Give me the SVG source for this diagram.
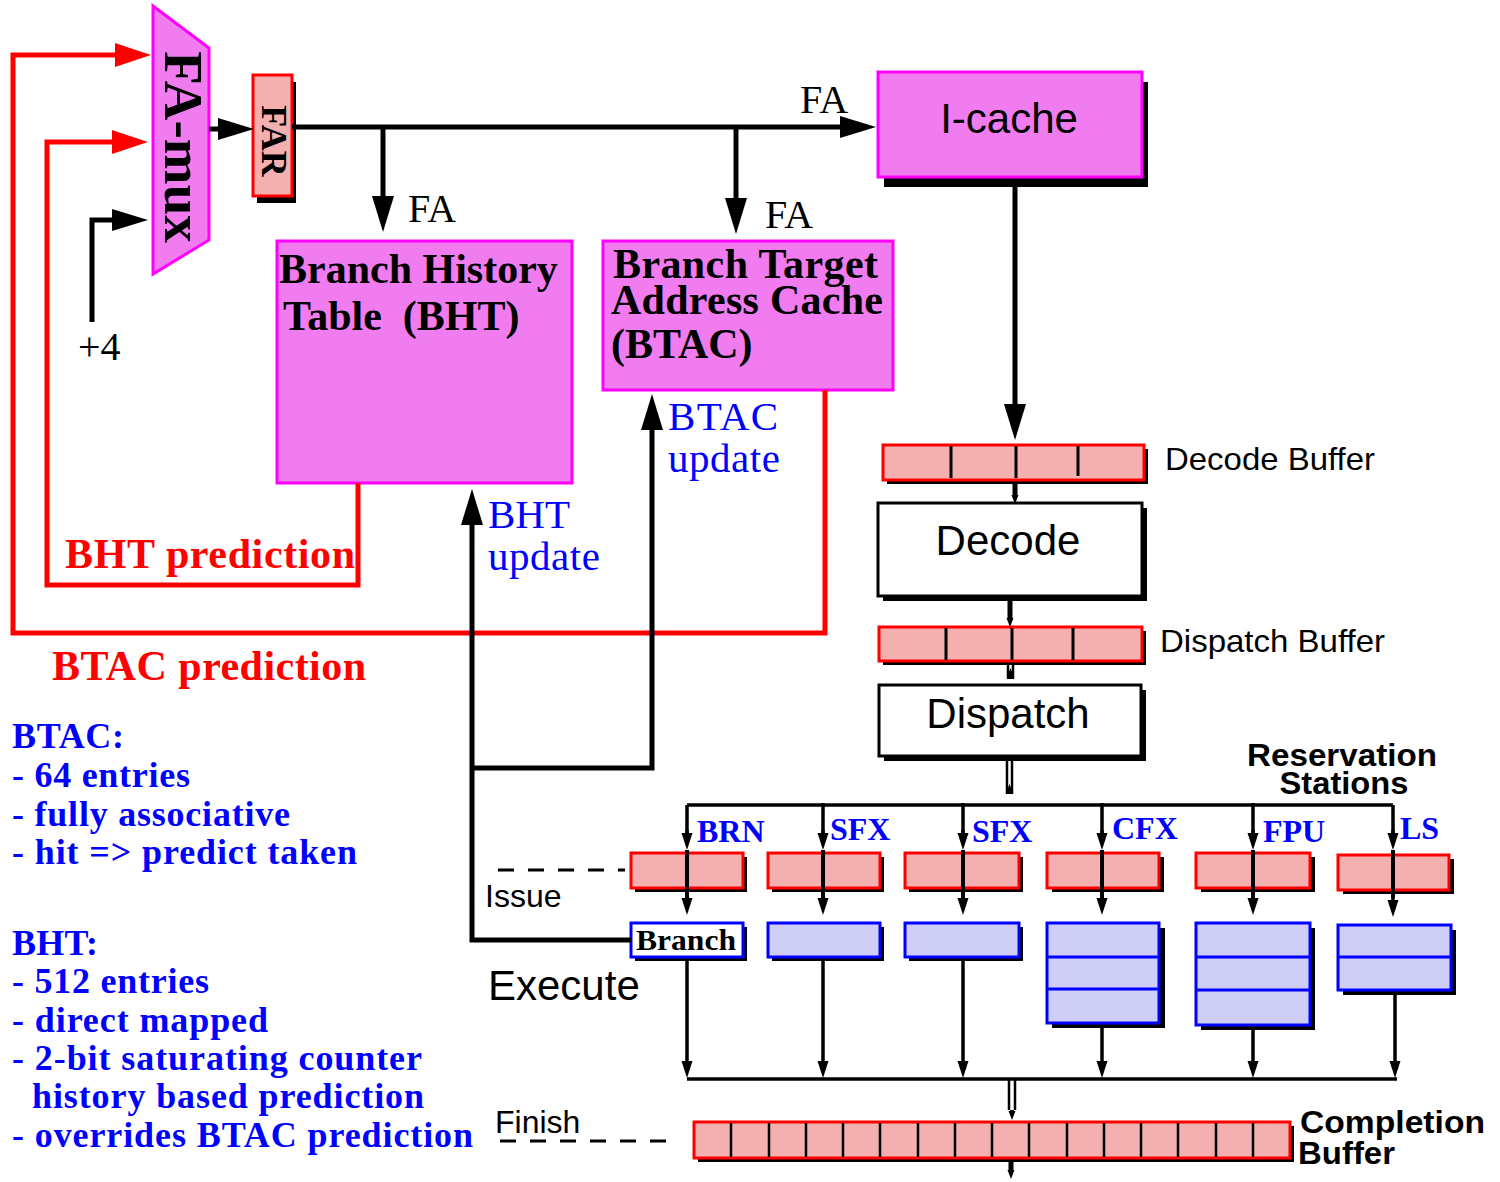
<svg xmlns="http://www.w3.org/2000/svg" width="1500" height="1182" viewBox="0 0 1500 1182">
  <style>
    .serif { font-family: "Liberation Serif", "Times New Roman", serif; }
    .sans { font-family: "Liberation Sans", Arial, sans-serif; }
    .bold { font-weight: bold; }
    .blue { fill: #0000ff; }
    .red { fill: #ff0000; }
    .blk { fill: #000; }
    .sh { fill: #000; }
    .mag { fill: #f07cf0; stroke: #ff00ff; stroke-width: 3; }
    .buf { fill: #f4b0b0; stroke: #ff0000; stroke-width: 3; }
    .eu { fill: #cdcdf6; stroke: #0000ff; stroke-width: 3; }
    .stage { fill: #fff; stroke: #000; stroke-width: 3; }
    .div { stroke: #000; stroke-width: 3; }
    .eudiv { stroke: #0000ff; stroke-width: 3; }
    .thick { stroke: #000; stroke-width: 5; fill: none; }
    .redl { stroke: #ff0000; stroke-width: 5; fill: none; }
    .thin { stroke: #000; stroke-width: 3.5; fill: none; }
    .dbl { stroke: #000; stroke-width: 2.5; fill: none; }
    .dash { stroke: #000; stroke-width: 3; stroke-dasharray: 16 14; fill: none; }
  </style>
  <defs>
    <marker id="ah" markerUnits="userSpaceOnUse" markerWidth="40" markerHeight="24" refX="0" refY="12" orient="auto" overflow="visible">
      <path d="M0,1 L36,12 L0,23 z" fill="#000"/>
    </marker>
    <marker id="ahR" markerUnits="userSpaceOnUse" markerWidth="40" markerHeight="26" refX="0" refY="13" orient="auto" overflow="visible">
      <path d="M0,1 L36,13 L0,25 z" fill="#ff0000"/>
    </marker>
    <marker id="ahS" markerUnits="userSpaceOnUse" markerWidth="18" markerHeight="12" refX="0" refY="6" orient="auto" overflow="visible">
      <path d="M0,0.5 L17,6 L0,11.5 z" fill="#000"/>
    </marker>
    <marker id="ahT" markerUnits="userSpaceOnUse" markerWidth="10" markerHeight="8" refX="0" refY="4" orient="auto" overflow="visible">
      <path d="M0,0.5 L9,4 L0,7.5 z" fill="#000"/>
    </marker>
  </defs>

  <rect width="1500" height="1182" fill="#fff"/>

  <!-- fetch path -->
  <g id="fa-mux">
    <polygon class="mag" stroke-width="2" points="153,6 209,48 209,240 153,274"/>
    <text class="serif bold blk" font-size="55" text-anchor="middle" transform="translate(165,147) rotate(90)">FA-mux</text>
  </g>
  <g id="far">
    <rect class="sh" x="257" y="82" width="39" height="121"/>
    <rect class="buf" x="253" y="75" width="39" height="121"/>
    <text class="serif bold blk" font-size="36" text-anchor="middle" transform="translate(262,141) rotate(90)">FAR</text>
  </g>
  <g id="i-cache">
    <rect class="sh" x="884" y="82" width="264" height="105"/>
    <rect class="mag" x="878" y="72" width="264" height="105"/>
    <text class="sans blk" font-size="42" x="1009" y="133" text-anchor="middle">I-cache</text>
  </g>
  <g id="bht">
    <rect class="mag" x="277" y="241" width="295" height="242"/>
    <text class="serif bold blk" font-size="42" x="279" y="283">Branch History</text>
    <text class="serif bold blk" font-size="42" x="283" y="330" xml:space="preserve">Table  (BHT)</text>
  </g>
  <g id="btac">
    <rect class="mag" x="603" y="241" width="290" height="149"/>
    <text class="serif bold blk" font-size="42" x="613" y="278" textLength="265" lengthAdjust="spacing">Branch Target</text>
    <text class="serif bold blk" font-size="42" x="611" y="314" textLength="272" lengthAdjust="spacing">Address Cache</text>
    <text class="serif bold blk" font-size="42" x="611" y="358">(BTAC)</text>
  </g>

  <!-- decode / dispatch -->
  <g id="decode-buffer">
    <rect class="sh" x="887" y="449" width="261" height="35"/>
    <rect class="buf" x="883" y="445" width="261" height="35"/>
    <line class="div" x1="951" y1="446" x2="951" y2="478"/>
    <line class="div" x1="1016" y1="446" x2="1016" y2="478"/>
    <line class="div" x1="1078" y1="446" x2="1078" y2="476"/>
    <text class="sans blk" font-size="32" x="1165" y="470" textLength="210" lengthAdjust="spacingAndGlyphs">Decode Buffer</text>
  </g>
  <g id="decode">
    <rect class="sh" x="883" y="508" width="264" height="93"/>
    <rect class="stage" x="878" y="503" width="264" height="93"/>
    <text class="sans blk" font-size="42" x="1008" y="555" text-anchor="middle">Decode</text>
  </g>
  <g id="dispatch-buffer">
    <rect class="sh" x="883" y="631" width="263" height="34"/>
    <rect class="buf" x="879" y="627" width="263" height="34"/>
    <line class="div" x1="946" y1="628" x2="946" y2="660"/>
    <line class="div" x1="1012" y1="628" x2="1012" y2="660"/>
    <line class="div" x1="1073" y1="628" x2="1073" y2="660"/>
    <text class="sans blk" font-size="32" x="1160" y="652" textLength="225" lengthAdjust="spacingAndGlyphs">Dispatch Buffer</text>
  </g>
  <g id="dispatch">
    <rect class="sh" x="884" y="690" width="262" height="71"/>
    <rect class="stage" x="879" y="685" width="262" height="71"/>
    <text class="sans blk" font-size="42" x="1008" y="728" text-anchor="middle">Dispatch</text>
  </g>

  <!-- reservation stations -->
  <g id="rs-brn">
    <rect class="sh" x="635" y="857" width="112" height="35"/>
    <rect class="buf" x="631" y="853" width="112" height="35"/>
  </g>
  <g id="rs-sfx1">
    <rect class="sh" x="772" y="857" width="112" height="35"/>
    <rect class="buf" x="768" y="853" width="112" height="35"/>
  </g>
  <g id="rs-sfx2">
    <rect class="sh" x="909" y="857" width="114" height="35"/>
    <rect class="buf" x="905" y="853" width="114" height="35"/>
  </g>
  <g id="rs-cfx">
    <rect class="sh" x="1052" y="857" width="112" height="35"/>
    <rect class="buf" x="1047" y="853" width="112" height="35"/>
  </g>
  <g id="rs-fpu">
    <rect class="sh" x="1201" y="857" width="114" height="35"/>
    <rect class="buf" x="1196" y="853" width="114" height="35"/>
  </g>
  <g id="rs-ls">
    <rect class="sh" x="1343" y="859" width="111" height="35"/>
    <rect class="buf" x="1338" y="855" width="111" height="35"/>
  </g>

  <!-- execution units -->
  <g id="eu-branch">
    <rect class="sh" x="635" y="927" width="112" height="34"/>
    <rect class="stage" style="stroke:#0000ff" x="631" y="923" width="112" height="34"/>
    <text class="serif bold blk" font-size="30" x="636" y="950" textLength="100" lengthAdjust="spacingAndGlyphs">Branch</text>
  </g>
  <g id="eu-sfx1">
    <rect class="sh" x="772" y="927" width="112" height="34"/>
    <rect class="eu" x="768" y="923" width="112" height="34"/>
  </g>
  <g id="eu-sfx2">
    <rect class="sh" x="909" y="927" width="114" height="34"/>
    <rect class="eu" x="905" y="923" width="114" height="34"/>
  </g>
  <g id="eu-cfx">
    <rect class="sh" x="1052" y="928" width="113" height="100"/>
    <rect class="eu" x="1047" y="923" width="112" height="100"/>
    <line class="eudiv" x1="1047" y1="957" x2="1159" y2="957"/>
    <line class="eudiv" x1="1047" y1="989" x2="1159" y2="989"/>
  </g>
  <g id="eu-fpu">
    <rect class="sh" x="1201" y="928" width="114" height="102"/>
    <rect class="eu" x="1196" y="923" width="114" height="102"/>
    <line class="eudiv" x1="1196" y1="957" x2="1310" y2="957"/>
    <line class="eudiv" x1="1196" y1="990" x2="1310" y2="990"/>
  </g>
  <g id="eu-ls">
    <rect class="sh" x="1343" y="930" width="113" height="65"/>
    <rect class="eu" x="1338" y="925" width="113" height="65"/>
    <line class="eudiv" x1="1338" y1="957" x2="1451" y2="957"/>
  </g>

  <!-- completion buffer -->
  <g id="completion-buffer">
    <rect class="sh" x="698" y="1126" width="596" height="36"/>
    <rect class="buf" x="694" y="1122" width="596" height="36"/>
    <g stroke="#000" stroke-width="2.5">
      <line x1="731" y1="1123" x2="731" y2="1157"/>
      <line x1="769" y1="1123" x2="769" y2="1157"/>
      <line x1="806" y1="1123" x2="806" y2="1157"/>
      <line x1="843" y1="1123" x2="843" y2="1157"/>
      <line x1="880" y1="1123" x2="880" y2="1157"/>
      <line x1="918" y1="1123" x2="918" y2="1157"/>
      <line x1="955" y1="1123" x2="955" y2="1157"/>
      <line x1="992" y1="1123" x2="992" y2="1157"/>
      <line x1="1029" y1="1123" x2="1029" y2="1157"/>
      <line x1="1067" y1="1123" x2="1067" y2="1157"/>
      <line x1="1104" y1="1123" x2="1104" y2="1157"/>
      <line x1="1141" y1="1123" x2="1141" y2="1157"/>
      <line x1="1178" y1="1123" x2="1178" y2="1157"/>
      <line x1="1216" y1="1123" x2="1216" y2="1157"/>
      <line x1="1253" y1="1123" x2="1253" y2="1157"/>
    </g>
    <text class="sans bold blk" font-size="31" x="1300" y="1133" textLength="185" lengthAdjust="spacingAndGlyphs">Completion</text>
    <text class="sans bold blk" font-size="31" x="1298" y="1164" textLength="97" lengthAdjust="spacingAndGlyphs">Buffer</text>
  </g>

  <!-- connectors -->
  <g id="connectors">
    <!-- fetch address -->
    <path class="thick" d="M292,127 H840" marker-end="url(#ah)"/>
    <path class="thick" d="M383,127 V196" marker-end="url(#ah)"/>
    <path class="thick" d="M736,127 V198" marker-end="url(#ah)"/>
    <path class="thick" d="M209,129 H218" marker-end="url(#ah)"/>
    <path class="thick" stroke-linejoin="miter" d="M92,322 V220 H112" marker-end="url(#ah)"/>
    <!-- predictions back to the mux -->
    <path class="redl" stroke-linejoin="miter" d="M825,390 V633 H13 V55 H115" marker-end="url(#ahR)"/>
    <path class="redl" stroke-linejoin="miter" d="M358,483 V585 H47 V142 H112" marker-end="url(#ahR)"/>
    <!-- updates from the branch unit -->
    <path class="thick" stroke-linejoin="miter" d="M631,940 H472 V525" marker-end="url(#ah)"/>
    <path class="thick" stroke-linejoin="miter" d="M472,768 H652 V430" marker-end="url(#ah)"/>
    <!-- pipeline -->
    <path class="thick" d="M1015,187 V404" marker-end="url(#ah)"/>
    <path class="thick" d="M1015,482 V495" marker-end="url(#ahT)"/>
    <path class="thick" d="M1010,600 V618" marker-end="url(#ahT)"/>
    <path class="dbl" d="M1008,663 V679 M1013,663 V679"/>
    <path class="thin" d="M1010.5,679 V677" marker-end="url(#ahT)"/>
    <path class="dbl" d="M1007,760 V794 M1012,760 V794"/>
    <path class="thin" d="M1009.5,794 V793" marker-end="url(#ahT)"/>
    <!-- dispatch bus -->
    <path class="thin" d="M687,805 H1393"/>
    <path class="thin" d="M687,805 V833 M823,803 V833 M963,803 V833 M1102,803 V833 M1253,803 V833 M1393,805 V833"/>
    <g class="thin">
      <path d="M687,830 V833" marker-end="url(#ahS)"/>
      <path d="M823,830 V833" marker-end="url(#ahS)"/>
      <path d="M963,830 V833" marker-end="url(#ahS)"/>
      <path d="M1102,830 V833" marker-end="url(#ahS)"/>
      <path d="M1253,830 V833" marker-end="url(#ahS)"/>
      <path d="M1393,830 V833" marker-end="url(#ahS)"/>
    </g>
    <path stroke="#000" stroke-width="4" d="M687,850 V898 M823,850 V898 M963,850 V898 M1102,850 V898 M1253,850 V898 M1393,850 V898"/>
    <g class="thin">
      <path d="M687,895 V898" marker-end="url(#ahS)"/>
      <path d="M823,895 V898" marker-end="url(#ahS)"/>
      <path d="M963,895 V898" marker-end="url(#ahS)"/>
      <path d="M1102,895 V898" marker-end="url(#ahS)"/>
      <path d="M1253,895 V898" marker-end="url(#ahS)"/>
      <path d="M1393,897 V900" marker-end="url(#ahS)"/>
    </g>
    <!-- results bus -->
    <g class="thin">
      <path d="M687,959 V1061" marker-end="url(#ahS)"/>
      <path d="M823,959 V1061" marker-end="url(#ahS)"/>
      <path d="M963,959 V1061" marker-end="url(#ahS)"/>
      <path d="M1102,1025 V1061" marker-end="url(#ahS)"/>
      <path d="M1253,1027 V1061" marker-end="url(#ahS)"/>
      <path d="M1395,992 V1061" marker-end="url(#ahS)"/>
    </g>
    <path class="thin" d="M687,1079 H1397"/>
    <path class="dbl" d="M1009,1079 V1110 M1015,1079 V1110"/>
    <path class="thin" d="M1012,1110 V1111" marker-end="url(#ahT)"/>
    <path class="thick" d="M1011,1160 V1170" marker-end="url(#ahT)"/>
    <!-- stage boundaries -->
    <path class="dash" d="M498,870 H625"/>
    <path class="dash" d="M500,1141 H668"/>
  </g>

  <!-- labels -->
  <g id="labels">
    <text class="serif blk" font-size="40" x="78" y="360">+4</text>
    <text class="serif blk" font-size="40" x="800" y="113">FA</text>
    <text class="serif blk" font-size="40" x="408" y="222">FA</text>
    <text class="serif blk" font-size="40" x="765" y="228">FA</text>
    <text class="serif blue" font-size="41" x="668" y="430" textLength="110">BTAC</text>
    <text class="serif blue" font-size="41" x="668" y="472" textLength="112">update</text>
    <text class="serif blue" font-size="41" x="488" y="528">BHT</text>
    <text class="serif blue" font-size="41" x="488" y="570" textLength="112">update</text>
    <text class="serif bold red" font-size="42" x="65" y="568" textLength="290" lengthAdjust="spacing">BHT prediction</text>
    <text class="serif bold red" font-size="42" x="52" y="680" textLength="314" lengthAdjust="spacing">BTAC prediction</text>

    <text class="sans bold blk" font-size="31" x="1342" y="766" text-anchor="middle" textLength="190" lengthAdjust="spacingAndGlyphs">Reservation</text>
    <text class="sans bold blk" font-size="31" x="1344" y="794" text-anchor="middle" textLength="129" lengthAdjust="spacingAndGlyphs">Stations</text>
    <text class="serif bold blue" font-size="32" x="697" y="842">BRN</text>
    <text class="serif bold blue" font-size="32" x="830" y="840">SFX</text>
    <text class="serif bold blue" font-size="32" x="972" y="842">SFX</text>
    <text class="serif bold blue" font-size="32" x="1112" y="839">CFX</text>
    <text class="serif bold blue" font-size="32" x="1263" y="842">FPU</text>
    <text class="serif bold blue" font-size="32" x="1400" y="839">LS</text>

    <text class="sans blk" font-size="32" x="485" y="907">Issue</text>
    <text class="sans blk" font-size="42" x="488" y="1000">Execute</text>
    <text class="sans blk" font-size="32" x="495" y="1133">Finish</text>

    <g class="serif bold blue" font-size="36">
      <text x="12" y="748" textLength="112" lengthAdjust="spacing">BTAC:</text>
      <text x="12" y="787" textLength="178" lengthAdjust="spacing">- 64 entries</text>
      <text x="12" y="826" textLength="278" lengthAdjust="spacing">- fully associative</text>
      <text x="12" y="864" textLength="345" lengthAdjust="spacing">- hit =&gt; predict taken</text>
      <text x="12" y="955" textLength="86" lengthAdjust="spacing">BHT:</text>
      <text x="12" y="993" textLength="197" lengthAdjust="spacing">- 512 entries</text>
      <text x="12" y="1032" textLength="256" lengthAdjust="spacing">- direct mapped</text>
      <text x="12" y="1070" textLength="410" lengthAdjust="spacing">- 2-bit saturating counter</text>
      <text x="32" y="1108" textLength="392" lengthAdjust="spacing">history based prediction</text>
      <text x="12" y="1147" textLength="461" lengthAdjust="spacing">- overrides BTAC prediction</text>
    </g>
  </g>
</svg>
